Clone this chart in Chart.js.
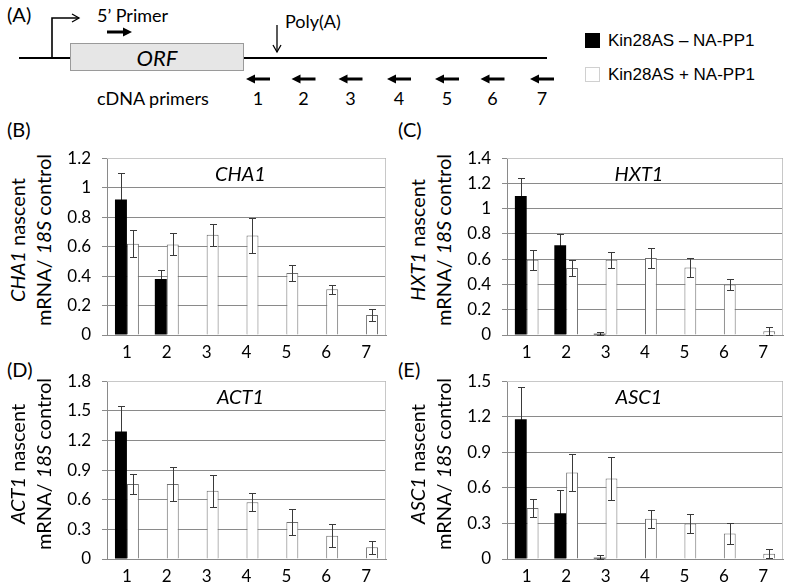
<!DOCTYPE html>
<html>
<head>
<meta charset="utf-8">
<script src="https://cdn.jsdelivr.net/npm/chart.js@4.4.1/dist/chart.umd.min.js"></script>
<style>
  html,body{margin:0;padding:0;background:#fff;}
  body{width:787px;height:584px;position:relative;overflow:hidden;font-family:Lato,"Open Sans",sans-serif;color:#000;}
  .abs{position:absolute;white-space:nowrap;}
  .plab{font-size:20px;}
  .ytitle{position:absolute;transform:translate(-50%,-50%) rotate(-90deg);white-space:nowrap;font-size:20px;line-height:1;}
  canvas{position:absolute;}
  .leg{font-family:"Liberation Sans",Arial,sans-serif;font-size:17px;}
  .sq{position:absolute;width:15px;height:15px;box-sizing:border-box;}
</style>
</head>
<body>
<script>
// ---------- DATA ----------
const categories = ['1','2','3','4','5','6','7'];
const seriesNames = ['Kin28AS \u2013 NA-PP1', 'Kin28AS + NA-PP1'];

// CHA1 (B)
const cha1Minus    = [0.92, 0.38, null, null, null, null, null];
const cha1MinusErr = [0.18, 0.06, null, null, null, null, null];
const cha1Plus     = [0.62, 0.615, 0.68, 0.675, 0.42, 0.31, 0.135];
const cha1PlusErr  = [0.09, 0.075, 0.075, 0.12, 0.055, 0.03, 0.04];
const cha1Ticks    = [0, 0.2, 0.4, 0.6, 0.8, 1, 1.2];

// HXT1 (C)
const hxt1Minus    = [1.10, 0.71, 0.01, null, null, null, null];
const hxt1MinusErr = [0.14, 0.09, 0.01, null, null, null, null];
const hxt1Plus     = [0.595, 0.53, 0.595, 0.61, 0.535, 0.40, 0.03];
const hxt1PlusErr  = [0.08, 0.065, 0.065, 0.08, 0.075, 0.045, 0.03];
const hxt1Ticks    = [0, 0.2, 0.4, 0.6, 0.8, 1, 1.2, 1.4];

// ACT1 (D)
const act1Minus    = [1.29, null, null, null, null, null, null];
const act1MinusErr = [0.26, null, null, null, null, null, null];
const act1Plus     = [0.76, 0.76, 0.69, 0.575, 0.375, 0.235, 0.12];
const act1PlusErr  = [0.105, 0.17, 0.165, 0.09, 0.135, 0.115, 0.065];
const act1Ticks    = [0, 0.3, 0.6, 0.9, 1.2, 1.5, 1.8];

// ASC1 (E)
const asc1Minus    = [1.18, 0.385, 0.01, null, null, null, null];
const asc1MinusErr = [0.27, 0.195, 0.02, null, null, null, null];
const asc1Plus     = [0.43, 0.73, 0.68, 0.34, 0.30, 0.215, 0.045];
const asc1PlusErr  = [0.075, 0.155, 0.18, 0.075, 0.083, 0.09, 0.04];
const asc1Ticks    = [0, 0.3, 0.6, 0.9, 1.2, 1.5];

// diagram primer labels
const primerLabels = ['1','2','3','4','5','6','7'];
</script>

<!-- Panel A diagram -->
<div class="abs plab" style="left:7px;top:2px;">(A)</div>
<svg width="787" height="110" style="position:absolute;left:0;top:0;">
  <defs>
    <marker id="thin" markerWidth="10" markerHeight="10" refX="8" refY="5" orient="auto" markerUnits="userSpaceOnUse">
      <path d="M1,1 L8,5 L1,9" fill="none" stroke="#000" stroke-width="1.3"/>
    </marker>
  </defs>
  <line x1="19" y1="58" x2="547" y2="58" stroke="#000" stroke-width="2"/>
  <polyline points="52,58 52,18 79,18" fill="none" stroke="#000" stroke-width="1.6" marker-end="url(#thin)"/>
  <rect x="70.5" y="43.5" width="173" height="27" fill="#e6e6e6" stroke="#9a9a9a" stroke-width="1"/>
  <line x1="277" y1="25" x2="277" y2="52" stroke="#000" stroke-width="1.3" marker-end="url(#thin)"/>
  <g id="arrows"></g>
</svg>
<div class="abs" style="left:157px;top:57px;transform:translate(-50%,-50%);font-size:22px;font-style:italic;">ORF</div>
<div class="abs" style="left:97px;top:4px;font-size:18px;">5’ Primer</div>
<div class="abs" style="left:285px;top:10px;font-size:18px;">Poly(A)</div>
<div class="abs" style="left:97px;top:87px;font-size:18px;">cDNA primers</div>
<div id="primerNums"></div>

<!-- Legend -->
<div class="sq" style="left:585px;top:33px;background:#000;"></div>
<div class="abs leg" style="left:608px;top:31px;" id="leg0"></div>
<div class="sq" style="left:585px;top:67px;background:#fff;border:1px solid #d0d0d0;"></div>
<div class="abs leg" style="left:608px;top:65px;" id="leg1"></div>

<!-- panel labels -->
<div class="abs plab" style="left:7px;top:117px;">(B)</div>
<div class="abs plab" style="left:398px;top:117px;">(C)</div>
<div class="abs plab" style="left:7px;top:357px;">(D)</div>
<div class="abs plab" style="left:398px;top:357px;">(E)</div>

<script>
document.getElementById('leg0').textContent = seriesNames[0];
document.getElementById('leg1').textContent = seriesNames[1];

// diagram bold arrows
const svgNS = 'http://www.w3.org/2000/svg';
const arrowsG = document.getElementById('arrows');
function boldArrow(x1, x2, y, dir){
  const g = document.createElementNS(svgNS,'g');
  const line = document.createElementNS(svgNS,'line');
  const tri = document.createElementNS(svgNS,'polygon');
  if(dir>0){
    line.setAttribute('x1',x1); line.setAttribute('x2',x2-7);
    tri.setAttribute('points',`${x2-9},${y-4.5} ${x2},${y} ${x2-9},${y+4.5}`);
  } else {
    line.setAttribute('x1',x1+7); line.setAttribute('x2',x2);
    tri.setAttribute('points',`${x1+9},${y-4.5} ${x1},${y} ${x1+9},${y+4.5}`);
  }
  line.setAttribute('y1',y); line.setAttribute('y2',y);
  line.setAttribute('stroke','#000'); line.setAttribute('stroke-width','3');
  tri.setAttribute('fill','#000');
  g.appendChild(line); g.appendChild(tri); arrowsG.appendChild(g);
}
boldArrow(107,132,32,1);
const primerX = [258, 303.5, 350.5, 399, 447, 492.5, 542];
const numsDiv = document.getElementById('primerNums');
primerLabels.forEach((t,i)=>{
  boldArrow(primerX[i]-12, primerX[i]+12, 79, -1);
  const d = document.createElement('div');
  d.className='abs'; d.style.left=primerX[i]+'px'; d.style.top='98px';
  d.style.transform='translate(-50%,-50%)'; d.style.fontSize='18px';
  d.textContent=t; numsDiv.appendChild(d);
});

// ---------- CHARTS ----------
function drawErr(chart, i){
  const ctx = chart.ctx, y = chart.scales.y;
  const ds = chart.data.datasets[i];
  const meta = chart.getDatasetMeta(i);
  ctx.save();
  ctx.strokeStyle = '#3a3a3a'; ctx.lineWidth = 1;
  meta.data.forEach((bar,j)=>{
    const v = ds.data[j], e = ds.errors[j];
    if(v==null || e==null) return;
    const x = Math.round(bar.x)+0.5;
    const t = Math.round(y.getPixelForValue(v+e))+0.5;
    const b = Math.round(y.getPixelForValue(Math.max(0,v-e)))+0.5;
    ctx.beginPath();
    ctx.moveTo(x,t); ctx.lineTo(x,b);
    ctx.moveTo(x-3.5,t); ctx.lineTo(x+3.5,t);
    ctx.moveTo(x-3.5,b); ctx.lineTo(x+3.5,b);
    ctx.stroke();
  });
  ctx.restore();
}
const errorBars = {
  id:'errorBars',
  // black (filled) bars hide the part of their error bar that lies inside them
  beforeDatasetsDraw(chart){ drawErr(chart, 0); },
  afterDatasetsDraw(chart){ drawErr(chart, 1); }
};
const frameAndTitle = {
  id:'frameAndTitle',
  beforeDatasetsDraw(chart){
    const a = chart.chartArea, ctx = chart.ctx;
    ctx.save();
    ctx.strokeStyle = '#c8c8c8'; ctx.lineWidth = 1;
    ctx.beginPath();
    ctx.moveTo(a.left, Math.round(a.top)+0.5); ctx.lineTo(Math.round(a.right)-0.5, Math.round(a.top)+0.5);
    ctx.lineTo(Math.round(a.right)-0.5, a.bottom);
    ctx.stroke();
    ctx.restore();
  },
  afterDatasetsDraw(chart){
    const a = chart.chartArea, ctx = chart.ctx;
    const t = chart.options.plugins.frameAndTitle.text;
    ctx.save();
    ctx.font = 'italic 20px Lato';
    ctx.fillStyle = '#000'; ctx.textAlign='center'; ctx.textBaseline='middle';
    ctx.fillText(t, (a.left+a.right)/2 - 6, a.top + 16);
    ctx.restore();
  }
};

function makeChart(cfg){
  const {gene, minus, minusErr, plus, plusErr, ticks, left, top, right, bottom} = cfg;
  const yW = 50, padTop = 8, padRight = 3, xH = 30;
  const c = document.createElement('canvas');
  const w = (right-left) + yW + padRight, h = (bottom-top) + padTop + xH;
  c.width = w; c.height = h;
  c.style.left = (left-yW)+'px'; c.style.top = (top-padTop)+'px';
  c.style.width = w+'px'; c.style.height = h+'px';
  document.body.appendChild(c);
  const font = {family:'Lato', size:17};
  new Chart(c, {
    type:'bar',
    data:{
      labels: categories,
      datasets:[
        {label:seriesNames[0], data:minus, errors:minusErr, backgroundColor:'#000', borderColor:'#000', borderWidth:0,
         categoryPercentage:0.6, barPercentage:1.0},
        {label:seriesNames[1], data:plus, errors:plusErr, backgroundColor:'#fff', borderColor:'#6e6e6e', borderWidth:1,
         categoryPercentage:0.6, barPercentage:1.0}
      ]
    },
    options:{
      responsive:false, animation:false, devicePixelRatio:1,
      layout:{padding:{top:padTop, right:padRight, left:0, bottom:0}},
      plugins:{legend:{display:false}, tooltip:{enabled:false}, frameAndTitle:{text:gene}},
      scales:{
        x:{
          grid:{display:false, drawTicks:false},
          border:{color:'#8a8a8a', width:1},
          ticks:{font, color:'#000', padding:7, maxRotation:0},
          afterFit(s){ s.height = xH; }
        },
        y:{
          min:ticks[0], max:ticks[ticks.length-1],
          grid:{color:'#8a8a8a', tickLength:5, drawTicks:true},
          border:{color:'#8a8a8a', width:1},
          ticks:{font, color:'#000', padding:11,
                 callback:(v)=> { const i = ticks.indexOf(v); return i>=0 ? String(ticks[i]) : ''; }},
          afterBuildTicks(s){ s.ticks = ticks.map(v=>({value:v})); },
          afterFit(s){ s.width = yW; }
        }
      }
    },
    plugins:[frameAndTitle, errorBars]
  });
  const cy = (top+bottom)/2;
  const l1 = document.createElement('div');
  l1.className='ytitle'; l1.style.left=(left-90)+'px'; l1.style.top=cy+'px';
  l1.innerHTML = '<i>'+gene+'</i> nascent';
  const l2 = document.createElement('div');
  l2.className='ytitle'; l2.style.left=(left-64)+'px'; l2.style.top=cy+'px';
  l2.innerHTML = 'mRNA/ <i>18S</i> control';
  document.body.appendChild(l1); document.body.appendChild(l2);
}

makeChart({gene:'CHA1', minus:cha1Minus, minusErr:cha1MinusErr, plus:cha1Plus, plusErr:cha1PlusErr, ticks:cha1Ticks,
           left:107, top:145, right:386, bottom:335});
makeChart({gene:'HXT1', minus:hxt1Minus, minusErr:hxt1MinusErr, plus:hxt1Plus, plusErr:hxt1PlusErr, ticks:hxt1Ticks,
           left:507, top:145, right:783, bottom:335});
makeChart({gene:'ACT1', minus:act1Minus, minusErr:act1MinusErr, plus:act1Plus, plusErr:act1PlusErr, ticks:act1Ticks,
           left:107, top:368, right:386, bottom:559});
makeChart({gene:'ASC1', minus:asc1Minus, minusErr:asc1MinusErr, plus:asc1Plus, plusErr:asc1PlusErr, ticks:asc1Ticks,
           left:507, top:368, right:783, bottom:559});
</script>
</body>
</html>
